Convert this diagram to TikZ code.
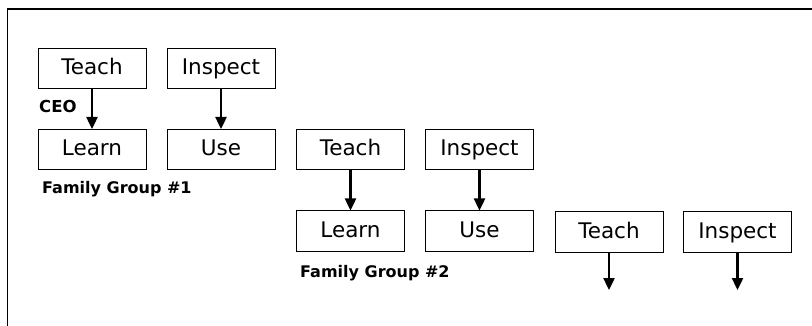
\documentclass[tikz,border=0pt]{standalone}
\usepackage{fontspec}
\setmainfont{DejaVu Sans}
\usetikzlibrary{arrows.meta}
\begin{document}
\begin{tikzpicture}[x=1pt,y=-1pt,
  stepbox/.style={draw, line width=1pt, minimum width=108pt, minimum height=40pt,
    inner sep=0pt, text height=16pt, text depth=4pt,
    font=\fontsize{21.5}{25}\selectfont},
  flow/.style={line width=2.4pt, -{Triangle[width=11pt,length=12pt]}},
  grouplabel/.style={anchor=base west, inner sep=0pt, font=\bfseries\fontsize{16}{19}\selectfont},
  framestyle/.style={line width=1.2pt}]
\useasboundingbox (0,0) rectangle (812,326);

% open frame: top and left edges
\coordinate (fl) at (7.5,326);
\coordinate (fc) at (7.5,9);
\coordinate (fr) at (812,9);
\draw[framestyle] (fl) -- (fc) -- (fr);

% family group 1
\node[stepbox] (t1) at (92,69) {Teach};
\node[stepbox] (i1) at (221,69) {Inspect};
\node[stepbox] (l1) at (92,149.5) {Learn};
\node[stepbox] (u1) at (221,149.5) {Use};
\draw[flow] (t1) -- (l1);
\draw[flow] (i1) -- (u1);
\node[grouplabel, font=\bfseries\fontsize{16.5}{19}\selectfont] (ceo) at (39,113) {CEO};
\node[grouplabel] (g1) at (42,194) {Family Group \#1};

% family group 2
\node[stepbox] (t2) at (350.5,149.5) {Teach};
\node[stepbox] (i2) at (479.5,149.5) {Inspect};
\node[stepbox] (l2) at (350.5,231) {Learn};
\node[stepbox] (u2) at (479.5,231) {Use};
\draw[flow] (t2) -- (l2);
\draw[flow] (i2) -- (u2);
\node[grouplabel] (g2) at (300,277) {Family Group \#2};

% family group 3, leading on
\node[stepbox] (t3) at (609,232) {Teach};
\node[stepbox] (i3) at (737.5,232) {Inspect};
\coordinate (t3end) at (609,290);
\coordinate (i3end) at (737.5,290);
\draw[flow] (t3) -- (t3end);
\draw[flow] (i3) -- (i3end);
\end{tikzpicture}
\end{document}
